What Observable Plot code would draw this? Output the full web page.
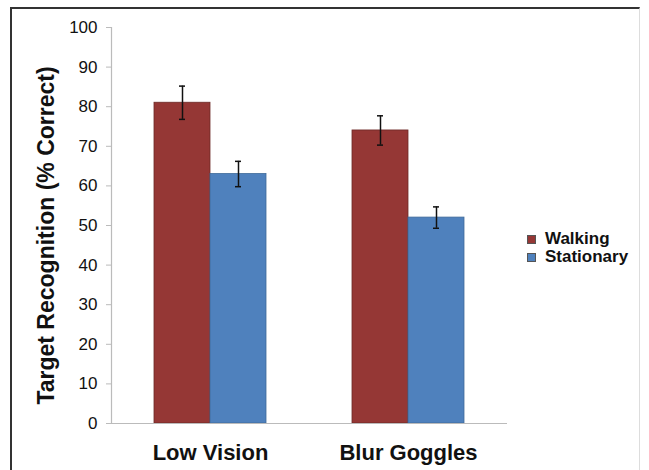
<!DOCTYPE html>
<html>
<head>
<meta charset="utf-8">
<script src="https://cdn.jsdelivr.net/npm/d3@7"></script>
<script src="https://cdn.jsdelivr.net/npm/@observablehq/plot@0.6"></script>
<style>
  html, body { margin: 0; padding: 0; background: #fff; }
  #wrap { position: relative; width: 649px; height: 470px; overflow: hidden; font-family: "Liberation Sans", Arial, sans-serif; }
  #border { position: absolute; left: 10px; top: 7px; width: 630px; height: 480px; border-left: 2px solid #333; border-top: 2px solid #333; border-right: 1px solid #ddd; box-sizing: border-box; }
  #chart { position: absolute; left: 0; top: 0; }
  #legend { position: absolute; left: 527px; top: 230px; font-weight: bold; font-size: 17px; color: #111; line-height: 18px; }
  #legend .item { display: flex; align-items: center; height: 18px; }
  #legend .sw { width: 9px; height: 9px; margin-right: 9px; box-sizing: border-box; border: 1px solid #555; }
</style>
</head>
<body>
<div id="wrap">
  <div id="border"></div>
  <div id="chart"></div>
  <div id="legend"></div>
</div>
<script>
const categories = ["Low Vision", "Blur Goggles"];
const series = ["Walking", "Stationary"];
const walking = [81, 74];
const stationary = [63, 52];
const walkingErr = [4.2, 3.7];
const stationaryErr = [3.2, 2.7];
const yTicks = [0, 10, 20, 30, 40, 50, 60, 70, 80, 90, 100];
const colors = ["#953735", "#4F81BD"];
const outlines = ["#6b2927", "#3f6a9a"];
const yLabel = "Target Recognition (% Correct)";

const values = { Walking: walking, Stationary: stationary };
const errs = { Walking: walkingErr, Stationary: stationaryErr };
const data = [];
categories.forEach((c, i) => series.forEach(s => data.push({ category: c, series: s, value: values[s][i], err: errs[s][i] })));
const outlineOf = d => outlines[series.indexOf(d.series)];

const chart = Plot.plot({
  width: 649,
  height: 470,
  marginLeft: 110,
  marginRight: 142,
  marginTop: 27,
  marginBottom: 47,
  style: { fontFamily: "'Liberation Sans', Arial, sans-serif", background: "transparent", overflow: "visible" },
  fx: { domain: categories, padding: 0, label: null },
  x: { domain: series, paddingInner: 0, paddingOuter: 0.74, axis: null },
  y: { domain: [0, 100] },
  color: { domain: series, range: colors },
  marks: [
    Plot.barY(data, { fx: "category", x: "series", y: "value", fill: "series", stroke: outlineOf, strokeWidth: 0.8 }),
    Plot.ruleY([0], { stroke: "#bbb", strokeWidth: 1.2 }),
    Plot.frame({ anchor: "left", facetAnchor: "left", stroke: "#bbb", strokeWidth: 1.2 }),
    Plot.ruleX(data, { fx: "category", x: "series", y1: d => d.value - d.err, y2: d => d.value + d.err, stroke: "#111", strokeWidth: 1.5 }),
    Plot.tickY(data, { fx: "category", x: "series", y: d => d.value - d.err, stroke: "#111", strokeWidth: 1.5, insetLeft: 25, insetRight: 25 }),
    Plot.tickY(data, { fx: "category", x: "series", y: d => d.value + d.err, stroke: "#111", strokeWidth: 1.5, insetLeft: 25, insetRight: 25 }),
    Plot.axisY({ ticks: yTicks, tickSize: 5, tickPadding: 9, fontSize: 17, stroke: "#bbb", fill: "#111", label: null }),
    Plot.text([yLabel], { text: d => d, frameAnchor: "left", facetAnchor: "left", textAnchor: "middle", rotate: -90, dx: -65, dy: 10, fontSize: 23, fontWeight: "bold", fill: "#111" }),
    Plot.axisFx({ anchor: "bottom", tickSize: 0, tickPadding: 21, fontSize: 22, fontWeight: "bold", fill: "#111", label: null })
  ]
});
document.getElementById("chart").appendChild(chart);

const legend = document.getElementById("legend");
series.forEach((s, i) => {
  const item = document.createElement("div");
  item.className = "item";
  const sw = document.createElement("span");
  sw.className = "sw";
  sw.style.background = colors[i];
  item.appendChild(sw);
  const t = document.createElement("span");
  t.textContent = s;
  item.appendChild(t);
  legend.appendChild(item);
});
</script>
</body>
</html>
